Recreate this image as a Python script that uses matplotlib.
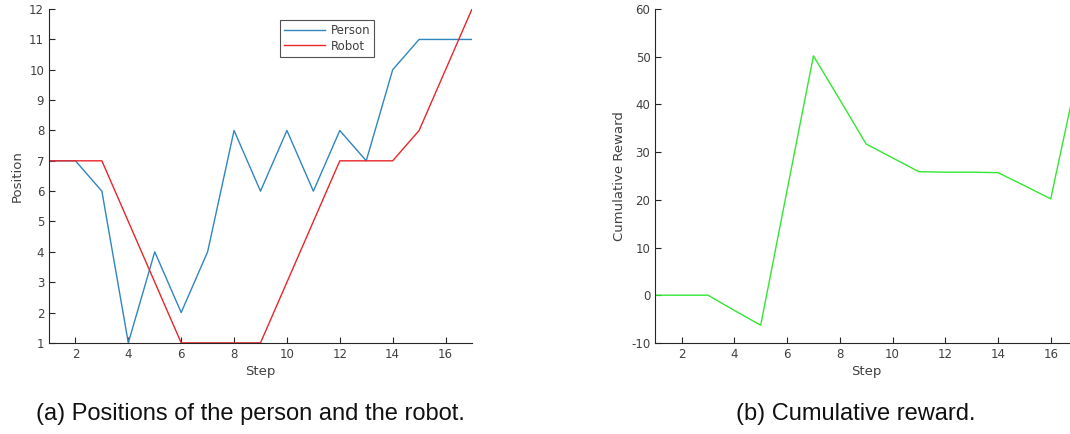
import matplotlib
matplotlib.use('Agg')
import matplotlib.pyplot as plt

# datos
pasos = list(range(1, 18))
persona = [7, 7, 6, 1, 4, 2, 4, 8, 6, 8, 6, 8, 7, 10, 11, 11, 11]
robot = [7, 7, 7, 5, 3, 1, 1, 1, 1, 3, 5, 7, 7, 7, 8, 10, 12]
recompensa = [0, 0, 0, -3.2, -6.3, 22, 50.2, 41, 31.7, 28.8, 25.9, 25.8, 25.8, 25.7, 23, 20.2, 46]

gris = '#404040'
plt.rcParams['font.family'] = 'DejaVu Sans'
plt.rcParams['axes.unicode_minus'] = False

fig = plt.figure(figsize=(10.7, 4.34), dpi=100)

def estilo(ax):
    ax.spines['top'].set_visible(False)
    ax.spines['right'].set_visible(False)
    for s in ['left', 'bottom']:
        ax.spines[s].set_color('#262626')
        ax.spines[s].set_linewidth(0.8)
    ax.tick_params(direction='in', length=4, width=0.8, colors='#262626',
                   labelcolor=gris, labelsize=8.5)
    ax.set_xlim(1, 17)
    ax.set_xticks(range(2, 17, 2))
    ax.set_xlabel('Step', color=gris, fontsize=9.5, labelpad=3)

# (a) posiciones
ax1 = fig.add_axes([0.0458, 0.210, 0.3953, 0.769])
ax1.plot(pasos, persona, color='#2f86c0', lw=1.0, label='Person')
ax1.plot(pasos, robot, color='#e8262a', lw=1.0, label='Robot')
ax1.set_ylim(1, 12)
ax1.set_yticks(range(1, 13))
estilo(ax1)
ax1.set_ylabel('Position', color=gris, fontsize=9.5, labelpad=4)
leg = ax1.legend(loc='upper left', bbox_to_anchor=(0.533, 0.985), fontsize=8.5,
                 frameon=True, fancybox=False, handlelength=3.4,
                 handletextpad=0.5, borderpad=0.35, labelspacing=0.2)
leg.get_frame().set_edgecolor('#262626')
leg.get_frame().set_linewidth(0.8)
for t in leg.get_texts():
    t.set_color(gris)

# (b) recompensa acumulada
ax2 = fig.add_axes([0.6124, 0.210, 0.3942, 0.769])
ax2.plot(pasos, recompensa, color='#33e633', lw=1.0)
ax2.set_ylim(-10, 60)
ax2.set_yticks(range(-10, 61, 10))
estilo(ax2)
ax2.set_ylabel('Cumulative Reward', color=gris, fontsize=9.5, labelpad=4)

# leyendas de las figuras
fig.text(0.234, 0.046, '(a) Positions of the person and the robot.',
         ha='center', va='center', fontsize=17, family='Liberation Sans', color='#111111')
fig.text(0.800, 0.046, '(b) Cumulative reward.',
         ha='center', va='center', fontsize=17, family='Liberation Sans', color='#111111')

fig.savefig('out.png', dpi=100)
